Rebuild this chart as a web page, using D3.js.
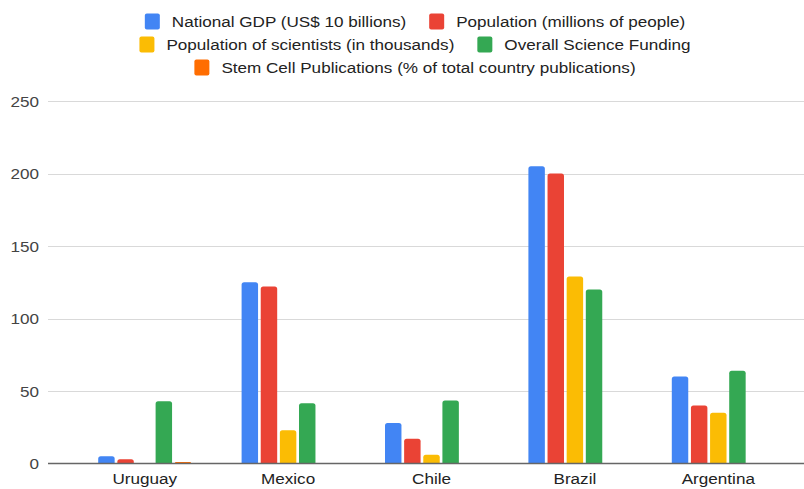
<!DOCTYPE html>
<html>
<head>
<meta charset="utf-8">
<script src="https://cdn.jsdelivr.net/npm/d3@7.9.0/dist/d3.min.js"></script>
<style>
  body { margin: 0; background: #fff; }
  svg { font-family: "Liberation Sans", Arial, sans-serif; }
</style>
</head>
<body>
<svg id="chart" width="804" height="489"></svg>
<script>
// ----- Data -----
const countries = ["Uruguay", "Mexico", "Chile", "Brazil", "Argentina"];
const seriesNames = [
  "National GDP (US$ 10 billions)",
  "Population (millions of people)",
  "Population of scientists (in thousands)",
  "Overall Science Funding",
  "Stem Cell Publications (% of total country publications)"
];
const gdp        = [5, 125, 28, 205, 60];
const population = [3, 122, 17, 200, 40];
const scientists = [0, 23, 6, 129, 35];
const funding    = [43, 41.5, 43.5, 120, 64];
const stemCell   = [1, 0, 0, 0, 0];
const yTicks = [0, 50, 100, 150, 200, 250];
const colors = ["#4285f4", "#ea4335", "#fbbc04", "#34a853", "#ff6d01"];

const allSeries = [gdp, population, scientists, funding, stemCell];
const legendRows = [[0, 1], [2, 3], [4]];

const svg = d3.select("#chart");
const sx = 1.14; // text in the picture is a bit wide

// text helper: positioned group, stretched horizontally
function label(parent, x, yPos, str, anchor, size, fill) {
  const g = parent.append("g").attr("transform", `translate(${x},${yPos}) scale(${sx},1)`);
  return g.append("text")
    .attr("text-anchor", anchor)
    .attr("font-size", size)
    .attr("fill", fill)
    .text(str);
}

// ----- Scales -----
const plotLeft = 48, plotRight = 804;
const y = d3.scaleLinear().domain([0, 250]).range([463.5, 101]);
const x0 = d3.scaleBand().domain(countries).range([73, 790]).paddingInner(0).paddingOuter(0);
const x1 = d3.scaleBand().domain(d3.range(seriesNames.length)).range([0, 93]).paddingInner(0.14).paddingOuter(0);

// ----- Grid -----
svg.append("g")
  .selectAll("line")
  .data(yTicks.filter(d => d > 0))
  .join("line")
  .attr("x1", plotLeft).attr("x2", plotRight)
  .attr("y1", d => Math.round(y(d)) + 0.5).attr("y2", d => Math.round(y(d)) + 0.5)
  .attr("stroke", "#d9d9d9").attr("stroke-width", 1);

// y tick labels
const yLab = svg.append("g");
yTicks.forEach(t => label(yLab, 39, y(t) + 5.5, t, "end", 15, "#444"));

// ----- Bars -----
function topRounded(x, yTop, w, h, r) {
  if (h <= 0) return "";
  r = Math.min(r, h, w / 2);
  return `M${x},${yTop + h}V${yTop + r}Q${x},${yTop} ${x + r},${yTop}` +
    `H${x + w - r}Q${x + w},${yTop} ${x + w},${yTop + r}V${yTop + h}Z`;
}

const groups = svg.append("g")
  .selectAll("g")
  .data(countries)
  .join("g")
  .attr("transform", c => `translate(${x0(c) + (x0.bandwidth() - 93) / 2},0)`);

groups.selectAll("path")
  .data((c, ci) => allSeries.map((s, si) => ({ si, v: s[ci] })))
  .join("path")
  .attr("d", d => topRounded(x1(d.si), y(d.v), x1.bandwidth(), y(0) - y(d.v), 2.5))
  .attr("fill", d => colors[d.si]);

// baseline
svg.append("line")
  .attr("x1", plotLeft).attr("x2", plotRight)
  .attr("y1", y(0)).attr("y2", y(0))
  .attr("stroke", "#666").attr("stroke-width", 1.3);

// x labels
const xLab = svg.append("g");
countries.forEach(c => label(xLab, x0(c) + x0.bandwidth() / 2, 483.5, c, "middle", 15, "#222"));

// ----- Legend -----
const legendCenter = 415;
const rowBase = [27, 50, 73];
const sw = 15, sh = 16, gapText = 12, gapItem = 23;

legendRows.forEach((row, ri) => {
  const g = svg.append("g");
  let cx = 0;
  row.forEach(si => {
    g.append("rect")
      .attr("x", cx).attr("y", rowBase[ri] - 5.5 - sh / 2)
      .attr("width", sw).attr("height", sh)
      .attr("rx", 2)
      .attr("fill", colors[si]);
    const t = label(g, cx + sw + gapText, rowBase[ri], seriesNames[si], "start", 15, "#222");
    cx += sw + gapText + t.node().getComputedTextLength() * sx + gapItem;
  });
  const total = cx - gapItem;
  g.attr("transform", `translate(${legendCenter - total / 2},0)`);
});
</script>
</body>
</html>
